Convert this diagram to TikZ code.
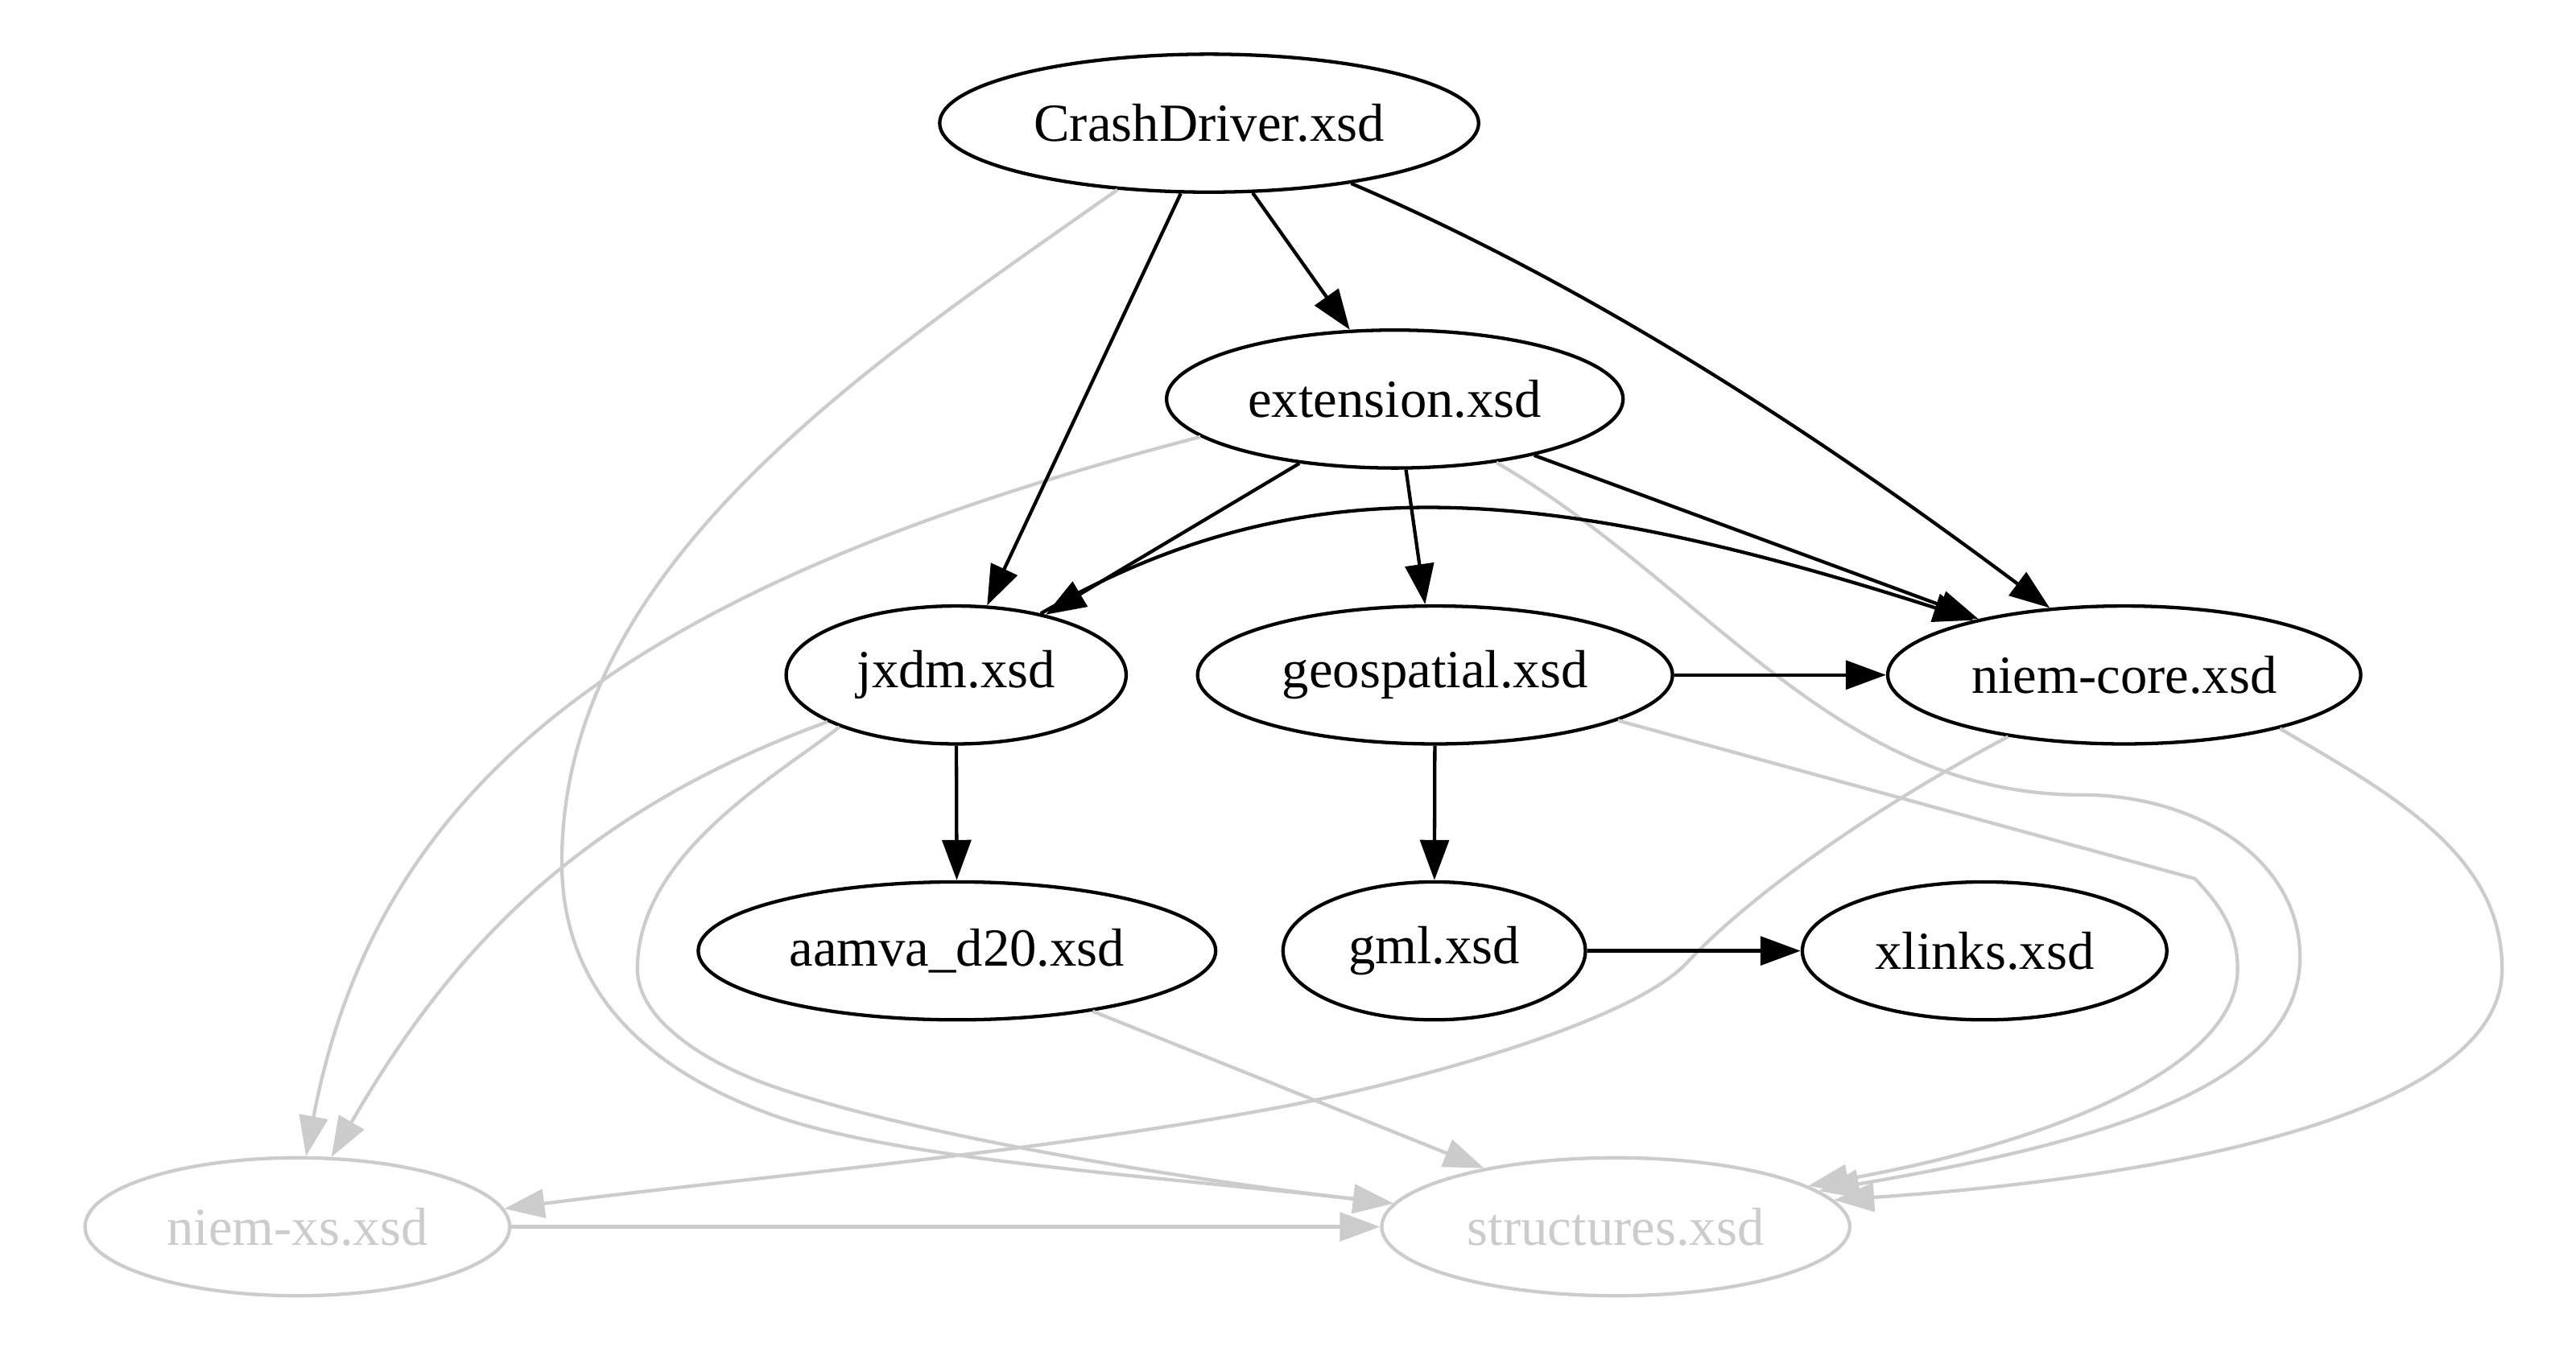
\documentclass[tikz,border=0pt]{standalone}
\usepackage{fontspec}
\setmainfont{Liberation Serif}
\usetikzlibrary{arrows.meta,shapes.geometric}
\definecolor{edgegray}{HTML}{CCCCCC}
\begin{document}
\begin{tikzpicture}[x=0.4286pt,y=-0.4286pt,
  box/.style={ellipse,draw,line width=0.9pt,inner sep=0pt,minimum height=36pt,font=\fontsize{14}{16}\selectfont},
  gbox/.style={box,draw=edgegray,text=edgegray},
  blk/.style={line width=0.9pt,-{Triangle[length=10.5pt,width=7.5pt]}},
  gry/.style={line width=0.9pt,color=edgegray,-{Triangle[length=10.5pt,width=7.5pt]}}
]
\useasboundingbox (0,0) rectangle (1568,833);

% nodes
\node[box,minimum width=140.6pt] (CD)  at (736,75)    {CrashDriver.xsd};
\node[box,minimum width=119.1pt] (EXT) at (849,243)   {extension.xsd};
\node[box,minimum width=88.7pt]  (JX)  at (582,411)   {jxdm.xsd};
\node[box,minimum width=123.9pt] (GEO) at (873.5,411) {geospatial.xsd};
\node[box,minimum width=123.4pt] (NC)  at (1293,411)  {niem-core.xsd};
\node[box,minimum width=135pt]   (AAM) at (582.5,579) {aamva\_d20.xsd};
\node[box,minimum width=78.9pt]  (GML) at (873,579)   {gml.xsd};
\node[box,minimum width=95.1pt]  (XL)  at (1208,579)  {xlinks.xsd};
\node[gbox,minimum width=110.8pt] (NXS) at (181,747)  {niem-xs.xsd};
\node[gbox,minimum width=122.1pt] (STR) at (983.5,747) {structures.xsd};

% gray edges
% CrashDriver -> structures
\draw[gry] (CD.-144) .. controls (526,224) and (342,345) .. (342,525)
  .. controls (342,600) and (389.2,649.3) .. (469,678.5)
  .. controls (544.1,706) and (698.9,715.7) .. (STR.174);
% jxdm -> structures
\draw[gry] (JX.-156) .. controls (472.8,472.5) and (388,520) .. (388,590)
  .. controls (388,620) and (426.6,646) .. (469,661)
  .. controls (544.4,687.7) and (698.9,715.7) .. (STR.174);
% extension -> niem-xs
\draw[gry] (EXT.-169) .. controls (393.2,353.9) and (231.1,469.3) .. (NXS.83);
% jxdm -> niem-xs
\draw[gry] (JX.-160) .. controls (354.8,493.9) and (276.1,575.8) .. (NXS.64);
% niem-xs -> structures
\draw[gry] (NXS) -- (STR);
% aamva -> structures
\draw[gry] (AAM.-24) -- (STR.156);
% niem-core -> niem-xs
\draw[gry] (NC.-152) .. controls (1161.8,480.4) and (1074.7,535.3) .. (1026.7,586.3)
  .. controls (992.5,622.8) and (858.6,659.1) .. (780,674)
  .. controls (632.5,701.9) and (454.3,717) .. (NXS.5);
% niem-core -> structures
\draw[gry] (NC.-19) .. controls (1455.1,483.2) and (1523,520) .. (1523,590)
  .. controls (1523,680) and (1312.6,717.6) .. (STR.7);
% extension -> structures
\draw[gry] (EXT.-32) .. controls (1038.5,356) and (1117,484) .. (1267,484)
  .. controls (1337,484) and (1400,523) .. (1400,583)
  .. controls (1400,668) and (1254.6,699.5) .. (STR.10);
% geospatial -> structures
\draw[gry] (GEO.-14) -- (1336,535)
  .. controls (1349.8,549.6) and (1362,565) .. (1362,590)
  .. controls (1362,650) and (1247.8,695.9) .. (STR.12);

% black edges
\draw[blk] (CD.-58) -- (EXT.123);
\draw[blk] (CD.-112) -- (JX.66);
\draw[blk] (CD.-23) .. controls (975,177) and (1115,271) .. (NC.138);
\draw[blk] (EXT.-146) -- (JX.34);
\draw[blk] (EXT.-81) -- (GEO.98);
\draw[blk] (EXT.-22) -- (NC.159);
\draw[blk] (JX.36) .. controls (789,284) and (935,292) .. (NC.160);
\draw[blk] (GEO) -- (NC);
\draw[blk] (JX) -- (AAM);
\draw[blk] (GEO) -- (GML);
\draw[blk] (GML) -- (XL);
\end{tikzpicture}
\end{document}
